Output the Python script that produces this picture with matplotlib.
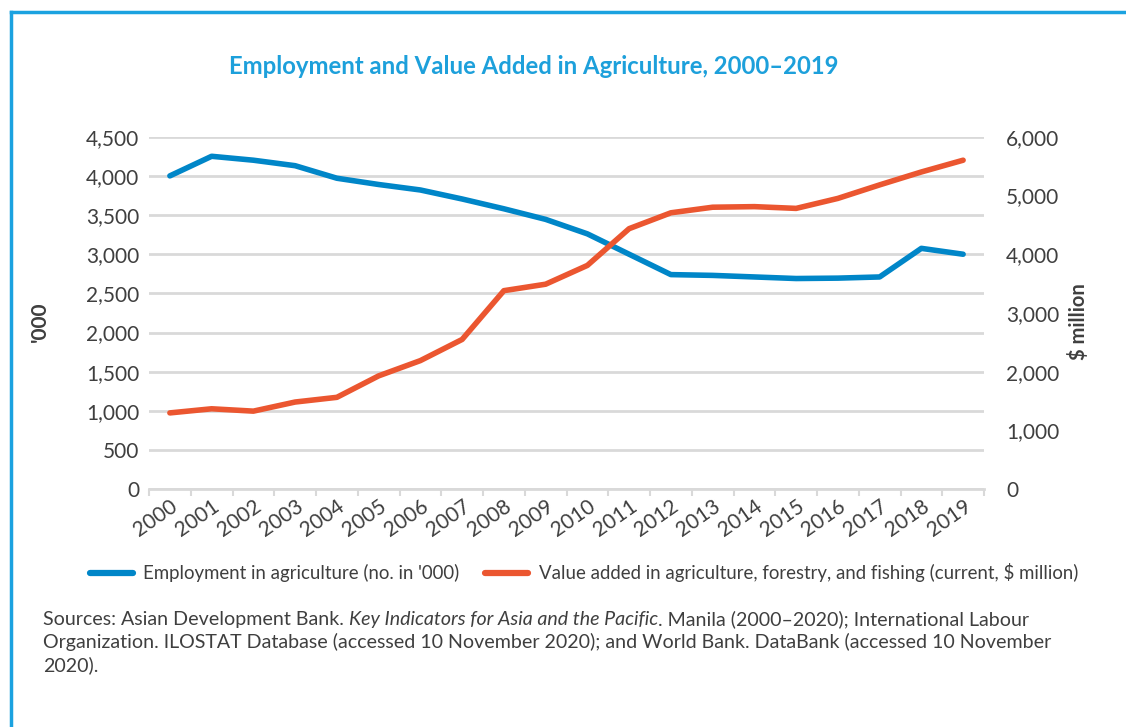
import matplotlib
matplotlib.use("Agg")
import matplotlib.pyplot as plt
from matplotlib.lines import Line2D
import numpy as np

years = [str(y) for y in range(2000, 2020)]
employment = [4000, 4250, 4200, 4130, 3970, 3890, 3820, 3705, 3580, 3445,
              3260, 3000, 2740, 2730, 2710, 2690, 2695, 2710, 3075, 3000]
value_added = [1300, 1370, 1330, 1485, 1565, 1930, 2190, 2550, 3380, 3490,
               3810, 4435, 4705, 4800, 4810, 4780, 4950, 5180, 5400, 5600]
left_ticks = [0, 500, 1000, 1500, 2000, 2500, 3000, 3500, 4000, 4500]
right_ticks = [0, 1000, 2000, 3000, 4000, 5000, 6000]

BLUE = "#0086C8"
ORANGE = "#EB5630"
TITLE = "#1DA0DB"
FRAME = "#1BA2E0"
TXT = "#3F3F3F"
GRID = "#D9D9D9"

plt.rcParams['font.family'] = ['Lato', 'DejaVu Sans']

W, H = 1126, 727
fig = plt.figure(figsize=(W / 100, H / 100), dpi=100)
ax = fig.add_axes([149 / W, 1 - 489.3 / H, (984 - 149) / W, (489.3 - 136.7) / H])
ax2 = ax.twinx()

x = np.arange(len(years))
ax.plot(x, employment, color=BLUE, lw=4, solid_capstyle='round', solid_joinstyle='round', zorder=3)
ax2.plot(x, value_added, color=ORANGE, lw=4, solid_capstyle='round', solid_joinstyle='round', zorder=3)

ax.set_xlim(-0.5, len(years) - 0.5)
ax.set_ylim(0, 4500)
ax2.set_ylim(0, 6000)
ax.set_yticks(left_ticks)
ax.set_yticklabels([f"{v:,}" for v in left_ticks])
ax2.set_yticks(right_ticks)
ax2.set_yticklabels([f"{v:,}" for v in right_ticks])

ax.grid(axis='y', color=GRID, lw=2)
ax.set_axisbelow(True)
for a in (ax, ax2):
    for s in ['top', 'right', 'left']:
        a.spines[s].set_visible(False)
ax2.spines['bottom'].set_visible(False)
ax.spines['bottom'].set_color(GRID)
ax.spines['bottom'].set_linewidth(2)

ax.set_xticks(np.arange(-0.5, len(years), 1), minor=False)
ax.set_xticklabels([])
ax.tick_params(axis='x', which='major', length=5, width=1.5, color=GRID)
ax.set_xticks(x, minor=True)
ax.set_xticklabels(years, minor=True, rotation=35, ha='right', va='top',
                   rotation_mode='anchor', fontsize=15, color=TXT)
ax.tick_params(axis='x', which='minor', length=0, pad=5)

ax.tick_params(axis='y', length=0, labelsize=15, labelcolor=TXT, pad=7)
ax2.tick_params(axis='y', length=0, labelsize=15, labelcolor=TXT, pad=16)

fig.text(40 / W, 1 - 322 / H, "'000", rotation=90, ha='center', va='center',
         fontsize=15, fontweight='bold', color=TXT)
fig.text(1078 / W, 1 - 322 / H, "$ million", rotation=90, ha='center', va='center',
         fontsize=14.5, fontweight='bold', color=TXT)

fig.text(534 / W, 1 - 67 / H, "Employment and Value Added in Agriculture, 2000\u20132019",
         ha='center', va='center', fontsize=17.2, fontweight='bold', color=TITLE)

handles = [Line2D([], [], color=BLUE, lw=4.5, solid_capstyle='round'),
           Line2D([], [], color=ORANGE, lw=4.5, solid_capstyle='round')]
fig.legend(handles, ["Employment in agriculture (no. in '000)",
                     "Value added in agriculture, forestry, and fishing (current, $ million)"],
           loc='center', bbox_to_anchor=(584 / W, 1 - 573 / H), ncol=2, frameon=False,
           fontsize=13.4, handlelength=2.3, columnspacing=1.4, handletextpad=0.55,
           labelcolor=TXT)

# Source text with italic segment
renderer = fig.canvas.get_renderer()
def put_line(y_px, parts):
    xp = 43
    for txt, style in parts:
        t = fig.text(xp / W, 1 - y_px / H, txt, ha='left', va='baseline', fontsize=14.1,
                     color=TXT, style=style)
        bb = t.get_window_extent(renderer=renderer)
        xp += bb.width

put_line(625, [("Sources: Asian Development Bank. ", 'normal'),
               ("Key Indicators for Asia and the Pacific", 'italic'),
               (". Manila (2000\u20132020); International Labour", 'normal')])
put_line(648, [("Organization. ILOSTAT Database (accessed 10 November 2020); and World Bank. DataBank (accessed 10 November", 'normal')])
put_line(671, [("2020).", 'normal')])

# Frame
fig.add_artist(Line2D([11 / W, 11 / W], [0, 1 - 12 / H], color=FRAME, lw=2.5, transform=fig.transFigure))
fig.add_artist(Line2D([11 / W, 1], [1 - 12 / H, 1 - 12 / H], color=FRAME, lw=2.5, transform=fig.transFigure))

fig.savefig("out.png", dpi=100)
